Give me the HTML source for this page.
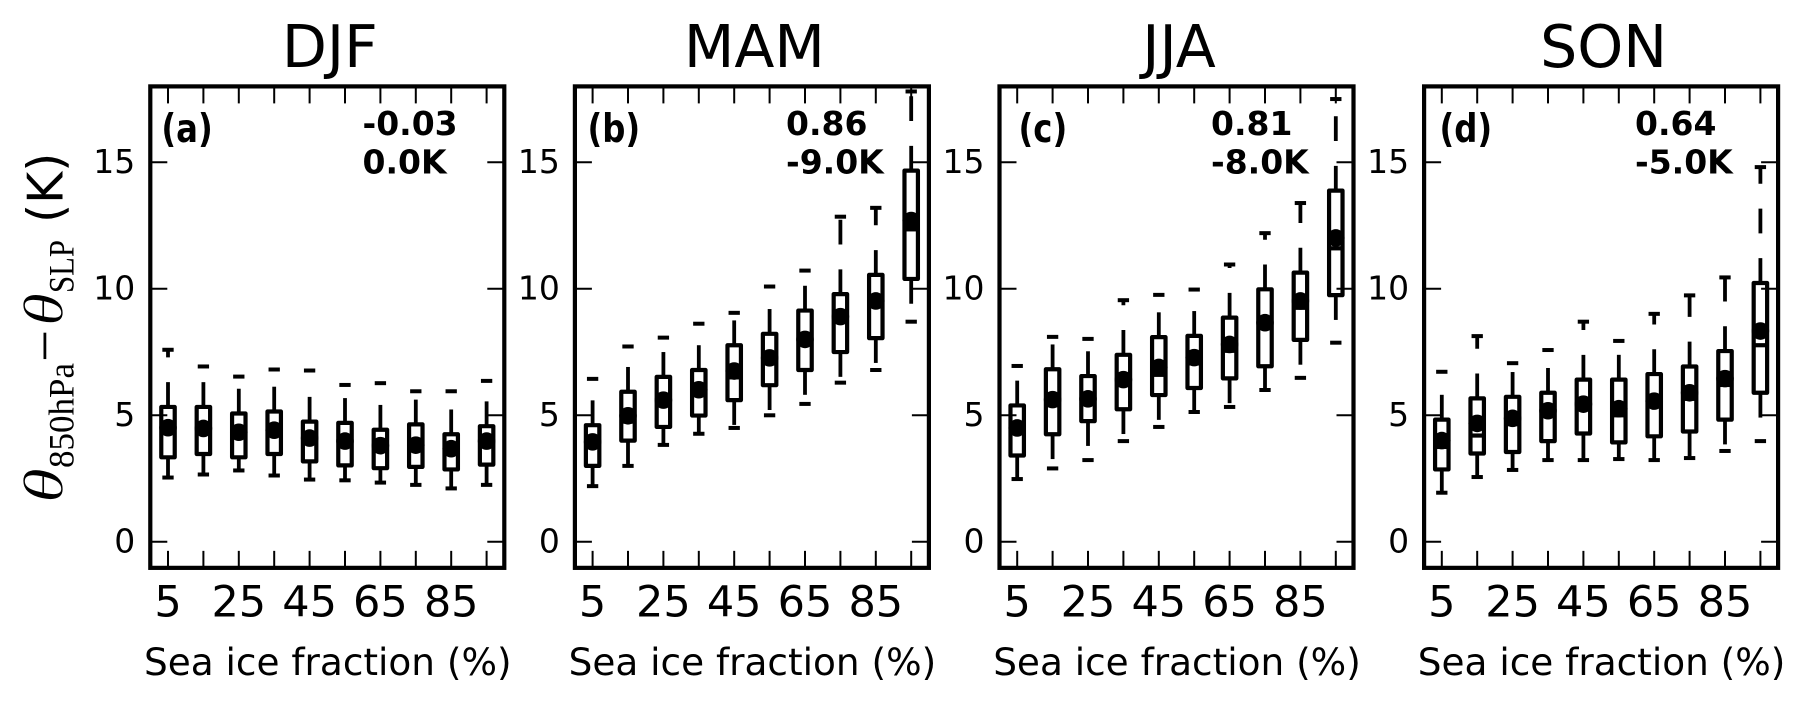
<!DOCTYPE html>
<html lang="en">
<head>
<meta charset="utf-8">
<title>Sea ice fraction box plots</title>
<style>
html,body{margin:0;padding:0;background:#fff;}
svg{display:block;}
text{fill:#000;font-family:"DejaVu Sans","Liberation Sans",sans-serif;}
.serif{font-family:"Liberation Serif",serif;}
.note{font-weight:bold;font-size:33px;}
.theta{stroke:#fff;stroke-width:0.7px;}
</style>
</head>
<body>
<svg id="chart" xmlns="http://www.w3.org/2000/svg" width="1808" height="704" viewBox="0 0 1808 704">
  <rect x="0" y="0" width="1808" height="704" fill="#fff"/>
  <g id="panels"></g>

  <g transform="translate(62.5,503) rotate(-90)">
    <text class="serif theta" x="0" y="0" font-size="56" font-style="italic" textLength="35" lengthAdjust="spacingAndGlyphs">θ</text>
    <text class="serif" x="35" y="11" font-size="36" textLength="105" lengthAdjust="spacingAndGlyphs">850hPa</text>
    <text class="serif" x="141" y="1" font-size="56" textLength="32" lengthAdjust="spacingAndGlyphs">−</text>
    <text class="serif theta" x="177" y="0" font-size="56" font-style="italic" textLength="33" lengthAdjust="spacingAndGlyphs">θ</text>
    <text class="serif" x="210" y="11" font-size="36" textLength="53" lengthAdjust="spacingAndGlyphs">SLP</text>
    <text x="280" y="0" font-size="49">(K)</text>
  </g>

  <text class="note" transform="translate(161.4,142) scale(0.98,1.2)" x="0" y="0">(a)</text>
  <text class="note" x="362.5" y="135">-0.03</text>
  <text class="note" x="362.5" y="173.5">0.0K</text>

  <text class="note" transform="translate(587.5,142) scale(0.98,1.2)" x="0" y="0">(b)</text>
  <text class="note" x="786" y="135">0.86</text>
  <text class="note" x="786" y="173.5">-9.0K</text>

  <text class="note" transform="translate(1018.5,142) scale(0.98,1.2)" x="0" y="0">(c)</text>
  <text class="note" x="1211" y="135">0.81</text>
  <text class="note" x="1211" y="173.5">-8.0K</text>

  <text class="note" transform="translate(1439.5,142) scale(0.98,1.2)" x="0" y="0">(d)</text>
  <text class="note" x="1635" y="135">0.64</text>
  <text class="note" x="1635" y="173.5">-5.0K</text>
</svg>
<script>
var categories = [5, 15, 25, 35, 45, 55, 65, 75, 85, 95];
var xTickLabels = ['5', '', '25', '', '45', '', '65', '', '85', ''];
var yTicks = [0, 5, 10, 15];
var seasons = ['DJF', 'MAM', 'JJA', 'SON'];

var djfLow  = [2.54, 2.66, 2.82, 2.62, 2.46, 2.43, 2.34, 2.25, 2.11, 2.25];
var djfQ1   = [3.34, 3.47, 3.34, 3.47, 3.18, 3.02, 2.91, 2.96, 2.86, 3.05];
var djfMed  = [4.30, 4.30, 4.15, 4.25, 3.95, 3.85, 3.65, 3.65, 3.55, 3.85];
var djfMean = [4.51, 4.48, 4.33, 4.41, 4.10, 3.98, 3.80, 3.82, 3.68, 3.98];
var djfQ3   = [5.33, 5.33, 5.07, 5.15, 4.75, 4.70, 4.43, 4.64, 4.25, 4.57];
var djfHigh = [7.59, 6.93, 6.53, 6.81, 6.77, 6.20, 6.27, 5.95, 5.95, 6.36];

var mamLow  = [2.20, 3.00, 3.83, 4.27, 4.50, 5.00, 5.45, 6.29, 6.79, 8.70];
var mamQ1   = [3.00, 4.00, 4.54, 4.99, 5.60, 6.19, 6.79, 7.50, 8.05, 10.39];
var mamMed  = [3.75, 4.75, 5.40, 5.80, 6.50, 7.05, 7.80, 8.70, 9.30, 12.35];
var mamMean = [3.95, 4.98, 5.60, 6.01, 6.75, 7.27, 8.00, 8.90, 9.52, 12.70];
var mamQ3   = [4.61, 5.93, 6.52, 6.79, 7.77, 8.22, 9.14, 9.79, 10.55, 14.67];
var mamHigh = [6.44, 7.72, 8.07, 8.62, 9.05, 10.09, 10.72, 12.85, 13.20, 17.80];

var jjaLow  = [2.48, 2.90, 3.23, 3.98, 4.54, 5.13, 5.33, 6.00, 6.48, 7.87];
var jjaQ1   = [3.41, 4.25, 4.77, 5.24, 5.80, 6.08, 6.46, 6.94, 7.98, 9.75];
var jjaMed  = [4.30, 5.40, 5.45, 6.20, 6.60, 7.05, 7.55, 8.45, 9.25, 11.60];
var jjaMean = [4.50, 5.62, 5.65, 6.41, 6.89, 7.28, 7.80, 8.66, 9.52, 12.01];
var jjaQ3   = [5.39, 6.82, 6.55, 7.39, 8.09, 8.14, 8.86, 9.98, 10.64, 13.88];
var jjaHigh = [6.95, 8.10, 8.02, 9.55, 9.76, 9.97, 10.96, 12.20, 13.39, 17.50];

var sonLow  = [1.94, 2.56, 2.84, 3.23, 3.23, 3.27, 3.23, 3.31, 3.59, 3.98];
var sonQ1   = [2.86, 3.49, 3.55, 3.98, 4.28, 3.93, 4.17, 4.36, 4.83, 5.89];
var sonMed  = [3.75, 4.20, 4.65, 5.00, 5.25, 5.00, 5.35, 5.65, 6.20, 7.77];
var sonMean = [4.00, 4.68, 4.88, 5.18, 5.44, 5.26, 5.56, 5.89, 6.45, 8.33];
var sonQ3   = [4.83, 5.67, 5.73, 5.89, 6.41, 6.41, 6.63, 6.93, 7.54, 10.23];
var sonHigh = [6.72, 8.13, 7.06, 7.58, 8.70, 7.94, 9.01, 9.74, 10.45, 14.81];

var lowSeries  = [djfLow, mamLow, jjaLow, sonLow];
var q1Series   = [djfQ1, mamQ1, jjaQ1, sonQ1];
var medSeries  = [djfMed, mamMed, jjaMed, sonMed];
var meanSeries = [djfMean, mamMean, jjaMean, sonMean];
var q3Series   = [djfQ3, mamQ3, jjaQ3, sonQ3];
var highSeries = [djfHigh, mamHigh, jjaHigh, sonHigh];

var SVGNS = 'http://www.w3.org/2000/svg';
var root = document.getElementById('panels');

function make(tag, attrs, parent) {
  var node = document.createElementNS(SVGNS, tag);
  for (var k in attrs) { node.setAttribute(k, attrs[k]); }
  parent.appendChild(node);
  return node;
}
function panelLeft(p) { return 150.3 + 424.6 * p; }
function xScale(p, v) { return panelLeft(p) + v * 3.54; }
function yScale(v) { return 541.8 - 25.3 * v; }

var BLACK = '#000';
var LW = 3.8;
var BOX_LW = 4.2;

function drawPanel(p) {
  var g = make('g', {}, root);
  
  

  var axLeft = xScale(p, 0), axRight = xScale(p, 100), axTop = yScale(18), axBottom = yScale(-1.03);
  var mid = (axLeft + axRight) / 2;

  var title = make('text', {x: mid + 2.5, y: 67, 'font-size': 58.5, 'text-anchor': 'middle'}, g);
  title.textContent = seasons[p];
  
  

  var xTitle = make('text', {x: mid + 0.5, y: 675, 'font-size': 37.4, 'text-anchor': 'middle'}, g);
  xTitle.textContent = 'Sea ice fraction (%)';
  
  

  for (var t = 0; t < categories.length; t++) {
    var tx = xScale(p, categories[t]);
    var tickBottom = make('line', {x1: tx, x2: tx, y1: axBottom, y2: axBottom - 17, stroke: BLACK, 'stroke-width': 2}, g);
    
    
    var tickTop = make('line', {x1: tx, x2: tx, y1: axTop, y2: axTop + 17, stroke: BLACK, 'stroke-width': 2}, g);
    
    
    if (xTickLabels[t]) {
      var xl = make('text', {x: tx, y: 616.5, 'font-size': 43, 'text-anchor': 'middle'}, g);
      xl.textContent = xTickLabels[t];
      
      
    }
  }

  for (var u = 0; u < yTicks.length; u++) {
    var ty = yScale(yTicks[u]);
    var tickLeft = make('line', {x1: axLeft, x2: axLeft + 17, y1: ty, y2: ty, stroke: BLACK, 'stroke-width': 2}, g);
    
    
    var tickRight = make('line', {x1: axRight, x2: axRight - 17, y1: ty, y2: ty, stroke: BLACK, 'stroke-width': 2}, g);
    
    
    var yl = make('text', {x: axLeft - 15, y: ty + 10.5, 'font-size': 33, 'text-anchor': 'end'}, g);
    yl.textContent = String(yTicks[u]);
    
    
  }

  for (var i = 0; i < categories.length; i++) {
    var cx = xScale(p, categories[i]);
    var halfBox = xScale(p, 1.9) - xScale(p, 0);
    var halfCap = xScale(p, 1.6) - xScale(p, 0);
    var yLow = yScale(lowSeries[p][i]);
    var yQ1 = yScale(q1Series[p][i]);
    var yMed = yScale(medSeries[p][i]);
    var yMean = yScale(meanSeries[p][i]);
    var yQ3 = yScale(q3Series[p][i]);
    var yHigh = yScale(highSeries[p][i]);

    var whiskerUp = make('line', {x1: cx, x2: cx, y1: yQ3, y2: yHigh, stroke: BLACK, 'stroke-width': LW, 'stroke-dasharray': '24.8 24.8'}, g);
    
    

    var whiskerDown = make('line', {x1: cx, x2: cx, y1: yQ1, y2: yLow, stroke: BLACK, 'stroke-width': LW, 'stroke-dasharray': '24.8 24.8'}, g);
    
    

    var capUp = make('line', {x1: cx - halfCap, x2: cx + halfCap, y1: yHigh, y2: yHigh, stroke: BLACK, 'stroke-width': 4}, g);
    
    

    var capDown = make('line', {x1: cx - halfCap, x2: cx + halfCap, y1: yLow, y2: yLow, stroke: BLACK, 'stroke-width': 4}, g);
    
    

    var box = make('rect', {x: cx - halfBox, y: yQ3, width: 2 * halfBox, height: yQ1 - yQ3, fill: 'none', stroke: BLACK, 'stroke-width': BOX_LW, 'stroke-linejoin': 'round'}, g);
    
    

    var median = make('line', {x1: cx - halfBox, x2: cx + halfBox, y1: yMed, y2: yMed, stroke: BLACK, 'stroke-width': BOX_LW}, g);
    
    

    var mean = make('circle', {cx: cx, cy: yMean, r: 8.8, fill: BLACK}, g);
    
    
  }

  var frame = make('rect', {x: axLeft, y: axTop, width: axRight - axLeft, height: axBottom - axTop, fill: 'none', stroke: BLACK, 'stroke-width': 4.2}, g);
  
  
}

for (var p = 0; p < seasons.length; p++) {
  drawPanel(p);
}
</script>
</body>
</html>
